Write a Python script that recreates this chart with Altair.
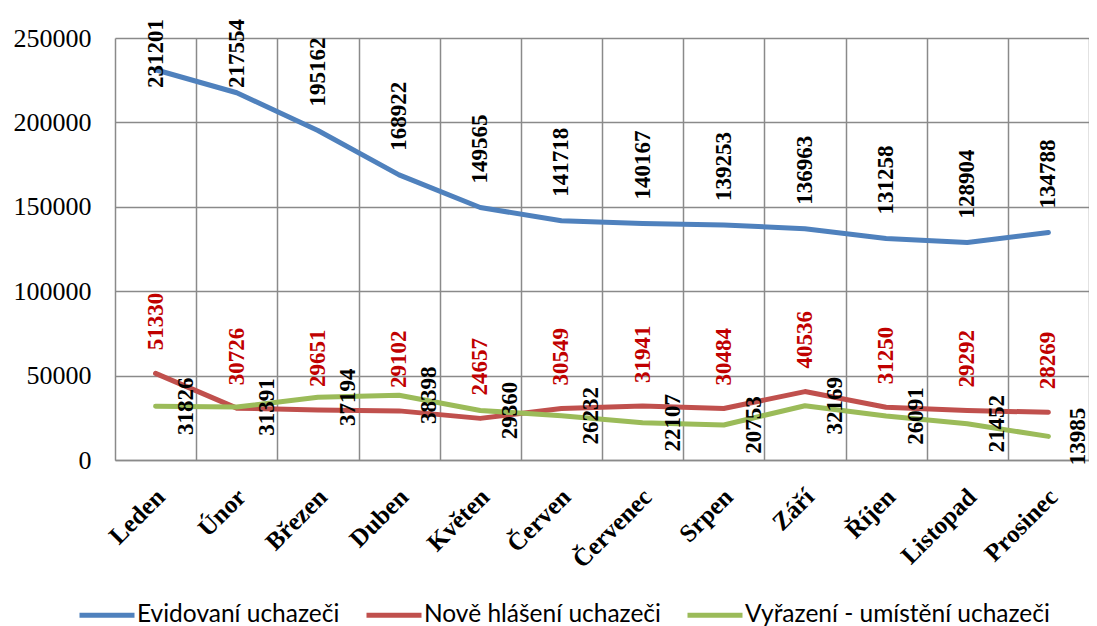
import altair as alt
import pandas as pd

months = ["Leden", "Únor", "Březen", "Duben", "Květen", "Červen",
          "Červenec", "Srpen", "Září", "Říjen", "Listopad", "Prosinec"]
evidovani = [231201, 217554, 195162, 168922, 149565, 141718,
             140167, 139253, 136963, 131258, 128904, 134788]
nove = [51330, 30726, 29651, 29102, 24657, 30549,
        31941, 30484, 40536, 31250, 29292, 28269]
vyrazeni = [31826, 31391, 37194, 38398, 29360, 26232,
            22107, 20753, 32169, 26091, 21452, 13985]
series = ["Evidovaní uchazeči", "Nově hlášení uchazeči", "Vyřazení - umístění uchazeči"]
colors = ["#4F81BD", "#C0504D", "#9BBB59"]
y_ticks = [0, 50000, 100000, 150000, 200000, 250000]

rows = []
for name, vals in zip(series, [evidovani, nove, vyrazeni]):
    for i, (m, v) in enumerate(zip(months, vals)):
        rows.append({"mesic": m, "serie": name, "hodnota": v, "poradi": i})
df = pd.DataFrame(rows)

SERIF = "Liberation Serif"
GRID = "#8A8A8A"

x_enc = alt.X(
    "mesic:N", sort=months, title=None,
    scale=alt.Scale(type="band", paddingInner=0, paddingOuter=0),
    axis=alt.Axis(
        tickBand="extent", grid=True, gridColor=GRID, gridWidth=1.5,
        ticks=False, domain=True, domainColor=GRID, domainWidth=1.5,
        labelAngle=315, labelAlign="right", labelBaseline="top",
        labelFont=SERIF, labelFontSize=25, labelFontWeight="bold",
        labelColor="black", labelPadding=24, labelOffset=-4,
        labelOverlap=False,
    ),
)
y_scale = alt.Scale(domain=[0, 250000], nice=False, zero=True)
y_enc = alt.Y(
    "hodnota:Q", scale=y_scale, title=None,
    axis=alt.Axis(
        values=y_ticks, grid=True, gridColor=GRID, gridWidth=1.5,
        ticks=False, domain=False, labelFont=SERIF, labelFontSize=26,
        labelColor="black", labelPadding=24, labelFlush=False,
        labelOverlap=False, format="d",
    ),
)

base = alt.Chart(df)

lines = base.mark_line(strokeWidth=5, strokeCap="round", strokeJoin="round").encode(
    x=x_enc,
    y=y_enc,
    color=alt.Color(
        "serie:N", sort=series,
        scale=alt.Scale(domain=series, range=colors),
        legend=alt.Legend(
            title=None, orient="none", direction="horizontal",
            legendX=-38, legendY=547,
            symbolType="stroke", symbolSize=3025, symbolStrokeWidth=5,
            labelFont="Lato", labelFontSize=24.5, labelColor="black",
            labelOffset=0, columnPadding=16, padding=0, labelLimit=400,
        ),
    ),
    order="poradi:Q",
)

txt_font = dict(font=SERIF, fontSize=23, fontWeight="bold", angle=270)

blue_lbl = base.transform_filter(alt.datum.serie == series[0]).transform_calculate(
    ly="min(datum.hodnota, 206200)"
).mark_text(align="left", baseline="middle", dx=24, color="black", **txt_font).encode(
    x=alt.X("mesic:N", sort=months),
    y=alt.Y("ly:Q", scale=y_scale),
    text=alt.Text("hodnota:Q", format="d"),
)

red_lbl = base.transform_filter(alt.datum.serie == series[1]).mark_text(
    align="left", baseline="middle", dx=23, color="#C00000", **txt_font
).encode(
    x=alt.X("mesic:N", sort=months),
    y=alt.Y("hodnota:Q", scale=y_scale),
    text=alt.Text("hodnota:Q", format="d"),
)

green_lbl = base.transform_filter(alt.datum.serie == series[2]).mark_text(
    align="center", baseline="middle", dy=30, color="black", **txt_font
).encode(
    x=alt.X("mesic:N", sort=months),
    y=alt.Y("hodnota:Q", scale=y_scale),
    text=alt.Text("hodnota:Q", format="d"),
)

chart = alt.layer(lines, blue_lbl, red_lbl, green_lbl).properties(
    width=974, height=422,
    autosize=alt.AutoSizeParams(type="none"),
    padding={"left": 107, "top": 30, "right": 0, "bottom": 166},
    background="white",
).configure_view(stroke=None)

chart.save("out.html", embed_options={"renderer": "svg", "actions": False})
